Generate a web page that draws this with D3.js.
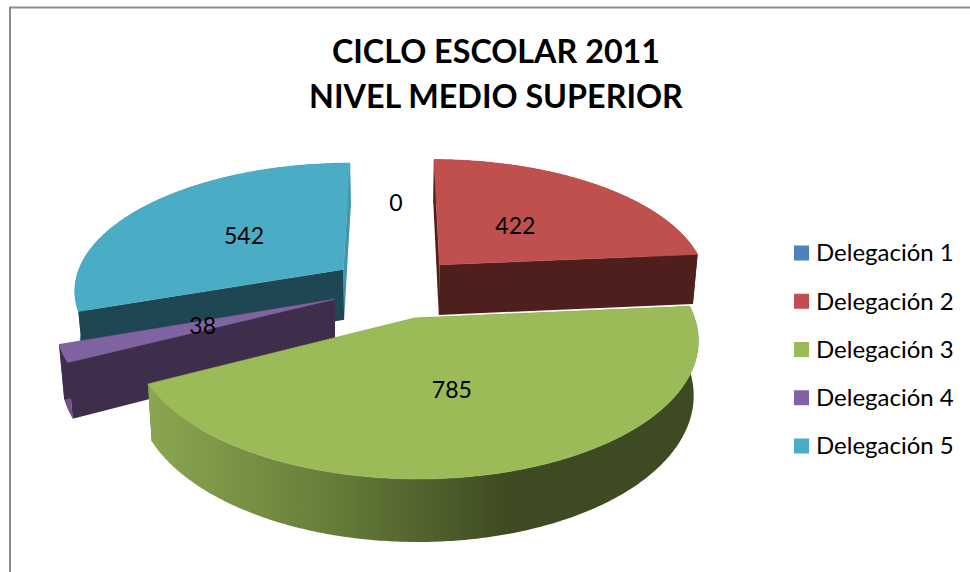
<!DOCTYPE html>
<html><head><meta charset="utf-8">
<script src="https://cdnjs.cloudflare.com/ajax/libs/d3/7.8.5/d3.min.js"></script>
<style>html,body{margin:0;padding:0;background:#fff}svg{display:block}text{font-family:Lato,sans-serif;fill:#000}</style>
</head><body><svg id="c" width="970" height="572"></svg>
<script>
const titleLines = ["CICLO ESCOLAR 2011", "NIVEL MEDIO SUPERIOR"];
const categories = ["Delegación 1","Delegación 2","Delegación 3","Delegación 4","Delegación 5"];
const values = [0, 422, 785, 38, 542];
const topColors = ["#4f81bd","#c0504d","#9bbb59","#8064a2","#4bacc6"];
const faceColors = ["#2a4566","#4f1f1e","#4e5e2c","#3e2e4c","#1e4653"];
const wallColors = ["#3c6594","#5b2726","url(#greenWall)","#6e5288","#2f7f95"];
const labelRadius = [0.49, 0.46, 0.5, 0.5, 0.49];
const labelShift = [0, 0, 0.04, 0, 0];

const CX=396, CY=287, R=270, EXPLODE=66, TILT=0.47, K=0.00055, H=51.5, TAPER=0.0003;
const svg=d3.select("#c");

const defs=svg.append("defs");
const g=defs.append("linearGradient").attr("id","greenWall").attr("gradientUnits","userSpaceOnUse")
  .attr("x1",150).attr("x2",510).attr("y1",0).attr("y2",0);
g.append("stop").attr("offset",0).attr("stop-color","#8aa650");
g.append("stop").attr("offset",0.5).attr("stop-color","#667e3a");
g.append("stop").attr("offset",1).attr("stop-color","#3e4a22");

svg.append("path").attr("d","M970,7.5H10V572").attr("fill","none").attr("stroke","#8c8c8c").attr("stroke-width",2);

const title=svg.append("g");
titleLines.forEach((t,i)=>title.append("text").attr("x",496).attr("y",63+i*45)
  .attr("text-anchor","middle").attr("font-size",32.3).attr("font-weight",700).text(t));

function project(X,Y,h){
  const s=1/(1+Y*K);
  return [CX+X*s*(1-h*TAPER), CY-Y*TILT*s+h*s];
}
const line=d3.line();
const pie=d3.pie().sort(null).value(d=>d)(values);

function world(d,a,r){
  const mid=(d.startAngle+d.endAngle)/2;
  return [EXPLODE*Math.sin(mid)+r*Math.sin(a), EXPLODE*Math.cos(mid)+r*Math.cos(a)];
}
function arcPoints(d,h){
  const n=Math.max(2,Math.ceil((d.endAngle-d.startAngle)/0.01));
  return d3.range(n+1).map(i=>{
    const a=d.startAngle+(d.endAngle-d.startAngle)*i/n;
    const [X,Y]=world(d,a,R); return project(X,Y,h);
  });
}
function face(d,a){
  const [ax,ay]=world(d,a,0), [ox,oy]=world(d,a,R);
  return [project(ax,ay,0),project(ox,oy,0),project(ox,oy,H),project(ax,ay,H)];
}
const pieG=svg.append("g");
const order=[4,1,3,2,0];
order.forEach(i=>{
  const d=pie[i];
  if(d.endAngle-d.startAngle<=0) return;
  const [ax,ay]=world(d,0,0);
  const wrapsFront=d.startAngle<Math.PI&&d.endAngle>Math.PI;
  const outer=()=>pieG.append("path")
    .attr("d",line(arcPoints(d,0).concat(arcPoints(d,H).reverse()))+"Z")
    .attr("fill",wallColors[i]);
  const faces=()=>{
    pieG.append("path").attr("d",line(face(d,d.endAngle))+"Z").attr("fill",i===4?"#3f96ad":faceColors[i]);
    pieG.append("path").attr("d",line(face(d,d.startAngle))+"Z").attr("fill",faceColors[i]);
  };
  if(wrapsFront){faces();outer();}else{outer();faces();}
  const tip=project(ax,ay,0);
  pieG.append("path").attr("d",line([tip].concat(arcPoints(d,0)))+"Z").attr("fill",topColors[i])
    .attr("stroke",topColors[i]).attr("stroke-width",0.6);
});

pie.forEach((d,i)=>{
  const mid=(d.startAngle+d.endAngle)/2+labelShift[i];
  const [X,Y]=world(d,mid,R*labelRadius[i]);
  const [x,y]=project(X,Y,0);
  svg.append("text").attr("x",x).attr("y",y).attr("dy","0.35em").attr("text-anchor","middle")
    .attr("font-size",23).text(values[i]);
});

const legendY=d3.scalePoint().domain(categories).range([253,446]);
categories.forEach((c,i)=>{
  const y=legendY(c);
  svg.append("rect").attr("x",794).attr("y",y-7.5).attr("width",15).attr("height",15).attr("fill",topColors[i]);
  svg.append("text").attr("x",816).attr("y",y).attr("dy","0.35em").attr("font-size",24).text(c);
});
</script></body></html>
